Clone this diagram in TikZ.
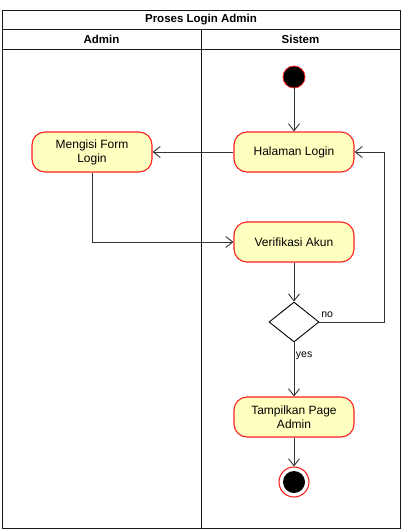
\documentclass[tikz,border=0pt]{standalone}
\usepackage{fontspec}
\setmainfont{Liberation Sans}
\usetikzlibrary{arrows.meta,shapes.geometric}
\definecolor{actfill}{HTML}{FFFFC0}
\definecolor{actline}{HTML}{FF2020}
\begin{document}
\begin{tikzpicture}[x=1pt,y=-1pt,font=\fontsize{12}{14}\selectfont,
 act/.style={draw=actline,line width=1.1pt,fill=actfill,rounded corners=13pt,minimum width=120pt,minimum height=40pt,align=center,inner sep=2pt},
 arr/.style={-{Straight Barb[length=7pt,width=11pt]},draw=black!80,line width=0.9pt},
 lbl/.style={font=\fontsize{10.5}{12}\selectfont,inner sep=1.5pt}]
\useasboundingbox (0,0) rectangle (403,530);
% swimlanes
\draw[black!90,line width=0.9pt] (2,10) rectangle (400,528);
\draw[black!90,line width=0.9pt] (2,29)--(400,29);\draw[black!90,line width=0.9pt] (2,49)--(400,49);\draw[black!90,line width=0.9pt] (201,29)--(201,528);
\node[font=\bfseries\fontsize{11.5}{13}\selectfont] (title) at (201,19.5) {Proses Login Admin};
\node[font=\bfseries\fontsize{11.5}{13}\selectfont] (laneadmin) at (101.5,39) {Admin};
\node[font=\bfseries\fontsize{11.5}{13}\selectfont] (lanesistem) at (300.5,39) {Sistem};
% activities
\node[circle,fill=black,draw=actline,line width=0.8pt,minimum size=22pt,inner sep=0pt] (start) at (294,77) {};
\node[act] (login) at (294,152) {Halaman Login};
\node[act] (form) at (92,152) {Mengisi Form\\Login};
\node[act] (verif) at (294,242) {Verifikasi Akun};
\node[diamond,draw,line width=0.9pt,fill=white,aspect=1.25,minimum width=50pt,minimum height=40pt,inner sep=0pt] (dec) at (294,322) {};
\node[act] (show) at (294,417) {Tampilkan Page\\Admin};
\node[circle,draw=actline,line width=1.1pt,fill=white,minimum size=30pt,inner sep=0pt] (stop) at (294,482) {};
\node[circle,fill=black,minimum size=22pt,inner sep=0pt] (stopdot) at (stop) {};
% flows
\draw[arr] (start)--(login);
\draw[arr] (login)--(form);
\draw[arr] (form.south) |- (verif.west);
\draw[arr] (verif)--(dec);
\draw[arr] (dec.east)--node[lbl,pos=0,above right,yshift=2pt]{no} ++(65,0) |- (login.east);
\draw[arr] (dec.south)--node[lbl,pos=0.24,right]{yes} (show);
\draw[arr] (show)--(stop);
\end{tikzpicture}
\end{document}
